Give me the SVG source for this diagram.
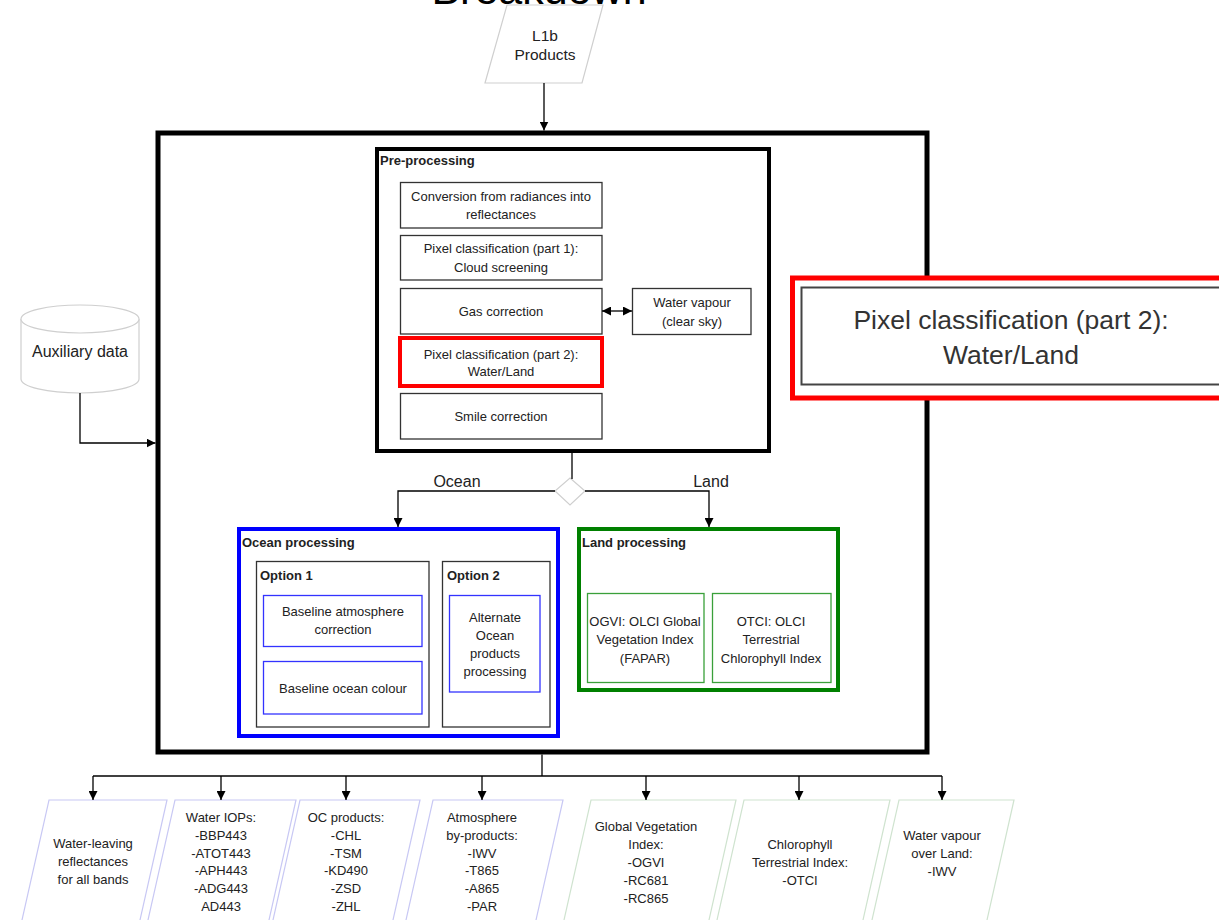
<svg xmlns="http://www.w3.org/2000/svg" width="1219" height="920" viewBox="0 0 1219 920">
<defs>
<marker id="ah" viewBox="0 0 10 10" refX="10" refY="5" markerWidth="9" markerHeight="9" markerUnits="userSpaceOnUse" orient="auto-start-reverse">
<path d="M0,0 L10,5 L0,10 z" fill="#000"/>
</marker>
<style>
text{font-family:"Liberation Sans",Arial,sans-serif;fill:#222;font-size:13px;text-anchor:middle}
.b{font-weight:bold;text-anchor:start}
.box{fill:#fff;stroke:#333;stroke-width:1.3}
.bl{fill:#fff;stroke:#3333ff;stroke-width:1.3}
.gr{fill:#fff;stroke:#3aa03a;stroke-width:1.3}
.pb{fill:#fff;stroke:#c8c8f4;stroke-width:1.2}
.pg{fill:#fff;stroke:#cfe3cf;stroke-width:1.2}
.ln{fill:none;stroke:#000;stroke-width:1.3}
</style>
</defs>
<rect width="1219" height="920" fill="#fff"/>
<text x="539" y="4" style="font-size:43px;fill:#000">Breakdown</text>

<g id="l1b">
<polygon points="507,5 603,5 582,83 485,83" fill="#fff" stroke="#cfcfcf" stroke-width="1.2"/>
<text x="545" y="41" style="font-size:15.5px">L1b</text>
<text x="545" y="60" style="font-size:15.5px">Products</text>
</g>

<g id="main">
<rect x="158" y="133" width="769" height="619" fill="none" stroke="#000" stroke-width="5"/>
</g>

<g id="aux">
<path d="M21,319 L21,379 A59,14 0 0 0 139,379 L139,319" fill="#fff" stroke="#cfcfcf" stroke-width="1.2"/>
<ellipse cx="80" cy="319" rx="59" ry="14" fill="#fff" stroke="#cfcfcf" stroke-width="1.2"/>
<text x="80" y="357" style="font-size:16px">Auxiliary data</text>
</g>

<g id="preprocessing">
<rect x="377" y="149" width="392" height="302" fill="#fff" stroke="#000" stroke-width="4"/>
<text class="b" x="380" y="165">Pre-processing</text>
</g>
<g id="conversion">
<rect class="box" x="400.5" y="182.5" width="201.5" height="45.5"/>
<text x="501" y="201">Conversion from radiances into</text>
<text x="501" y="219">reflectances</text>
</g>
<g id="pixel1">
<rect class="box" x="400.5" y="235.5" width="201.5" height="44.5"/>
<text x="501" y="253">Pixel classification (part 1):</text>
<text x="501" y="272">Cloud screening</text>
</g>
<g id="gas">
<rect class="box" x="400.5" y="288.5" width="201.5" height="45.5"/>
<text x="501" y="316">Gas correction</text>
</g>
<g id="pixel2">
<rect x="400" y="338" width="202" height="48" fill="#fff" stroke="#f00" stroke-width="4"/>
<text x="501" y="359">Pixel classification (part 2):</text>
<text x="501" y="376">Water/Land</text>
</g>
<g id="smile">
<rect class="box" x="400.5" y="393.5" width="201.5" height="45.5"/>
<text x="501" y="421">Smile correction</text>
</g>
<g id="watervapour">
<rect class="box" x="632.5" y="288.5" width="118.5" height="46"/>
<text x="692" y="307">Water vapour</text>
<text x="692" y="326">(clear sky)</text>
</g>

<g id="decision">
<polygon points="570,478 585,491 570,505 555,491" fill="#fff" stroke="#cfcfcf" stroke-width="1.2"/>
<text x="457" y="487" style="font-size:16px">Ocean</text>
<text x="711" y="487" style="font-size:16px">Land</text>
</g>

<g id="ocean">
<rect x="239" y="529" width="319" height="207" fill="#fff" stroke="#0000ff" stroke-width="4"/>
<text class="b" x="242" y="547">Ocean processing</text>
</g>
<g id="option1">
<rect class="box" x="256.5" y="561.5" width="172.5" height="165.5" stroke="#000"/>
<text class="b" x="260" y="580">Option 1</text>
</g>
<g id="atmcorr">
<rect class="bl" x="263.5" y="595.5" width="158.5" height="51"/>
<text x="343" y="616">Baseline atmosphere</text>
<text x="343" y="634">correction</text>
</g>
<g id="oceancolour">
<rect class="bl" x="263.5" y="661.5" width="158.5" height="52.5"/>
<text x="343" y="693">Baseline ocean colour</text>
</g>
<g id="option2">
<rect class="box" x="442.5" y="561.5" width="107.5" height="165.5" stroke="#000"/>
<text class="b" x="447" y="580">Option 2</text>
</g>
<g id="alternate">
<rect class="bl" x="449.5" y="595.5" width="90.5" height="96.5"/>
<text x="495" y="622">Alternate</text>
<text x="495" y="640">Ocean</text>
<text x="495" y="658">products</text>
<text x="495" y="676">processing</text>
</g>

<g id="land">
<rect x="579" y="529" width="259" height="161" fill="#fff" stroke="#008000" stroke-width="4"/>
<text class="b" x="582" y="547">Land processing</text>
</g>
<g id="ogvi">
<rect class="gr" x="587.5" y="593.5" width="116.5" height="89"/>
<text x="645" y="626">OGVI: OLCI Global</text>
<text x="645" y="644">Vegetation Index</text>
<text x="645" y="663">(FAPAR)</text>
</g>
<g id="otci">
<rect class="gr" x="712.5" y="593.5" width="118.5" height="89"/>
<text x="771" y="626">OTCI: OLCI</text>
<text x="771" y="644">Terrestrial</text>
<text x="771" y="663">Chlorophyll Index</text>
</g>

<g id="zoom">
<rect x="792.5" y="278" width="440" height="120" fill="#fff" stroke="#f00" stroke-width="5"/>
<rect x="801.5" y="287.5" width="420" height="97" fill="#fff" stroke="#444" stroke-width="2"/>
<text x="1011" y="329" style="font-size:26.5px;fill:#333">Pixel classification (part 2):</text>
<text x="1011" y="364" style="font-size:26.5px;fill:#333">Water/Land</text>
</g>

<g id="out1">
<polygon class="pb" points="49,800 167,800 135.5,940 17.5,940"/>
<text x="93" y="848">Water-leaving</text>
<text x="93" y="866">reflectances</text>
<text x="93" y="884">for all bands</text>
</g>
<g id="out2">
<polygon class="pb" points="175,800 296,800 264.5,940 143.5,940"/>
<text x="221" y="822">Water IOPs:</text>
<text x="221" y="840">-BBP443</text>
<text x="221" y="858">-ATOT443</text>
<text x="221" y="875">-APH443</text>
<text x="221" y="893">-ADG443</text>
<text x="221" y="911">AD443</text>
</g>
<g id="out3">
<polygon class="pb" points="300,800 420,800 388.5,940 268.5,940"/>
<text x="346" y="822">OC products:</text>
<text x="346" y="840">-CHL</text>
<text x="346" y="858">-TSM</text>
<text x="346" y="875">-KD490</text>
<text x="346" y="893">-ZSD</text>
<text x="346" y="911">-ZHL</text>
</g>
<g id="out4">
<polygon class="pb" points="433,800 563,800 531.5,940 401.5,940"/>
<text x="482" y="822">Atmosphere</text>
<text x="482" y="840">by-products:</text>
<text x="482" y="858">-IWV</text>
<text x="482" y="875">-T865</text>
<text x="482" y="893">-A865</text>
<text x="482" y="911">-PAR</text>
</g>
<g id="out5">
<polygon class="pg" points="591,800 736,800 704.5,940 559.5,940"/>
<text x="646" y="831">Global Vegetation</text>
<text x="646" y="849">Index:</text>
<text x="646" y="867">-OGVI</text>
<text x="646" y="885">-RC681</text>
<text x="646" y="903">-RC865</text>
</g>
<g id="out6">
<polygon class="pg" points="744,800 890,800 858.5,940 712.5,940"/>
<text x="800" y="849">Chlorophyll</text>
<text x="800" y="867">Terrestrial Index:</text>
<text x="800" y="885">-OTCI</text>
</g>
<g id="out7">
<polygon class="pg" points="899,800 1014,800 982.5,940 867.5,940"/>
<text x="942" y="840">Water vapour</text>
<text x="942" y="858">over Land:</text>
<text x="942" y="876">-IWV</text>
</g>

<g id="connectors">
<line class="ln" x1="544" y1="83" x2="544" y2="130.5" marker-end="url(#ah)"/>
<polyline class="ln" points="80,393 80,443 155.5,443" marker-end="url(#ah)"/>
<line class="ln" x1="602" y1="311" x2="632" y2="311" marker-start="url(#ah)" marker-end="url(#ah)"/>
<line class="ln" x1="572" y1="453" x2="572" y2="479"/>
<polyline class="ln" points="555,491 398,491 398,527" marker-end="url(#ah)"/>
<polyline class="ln" points="585,491 709,491 709,527" marker-end="url(#ah)"/>
<line class="ln" x1="542" y1="754.5" x2="542" y2="776"/>
<line class="ln" x1="93" y1="776" x2="942" y2="776"/>
<line class="ln" x1="93" y1="776" x2="93" y2="800" marker-end="url(#ah)"/>
<line class="ln" x1="221" y1="776" x2="221" y2="800" marker-end="url(#ah)"/>
<line class="ln" x1="346" y1="776" x2="346" y2="800" marker-end="url(#ah)"/>
<line class="ln" x1="482" y1="776" x2="482" y2="800" marker-end="url(#ah)"/>
<line class="ln" x1="646" y1="776" x2="646" y2="800" marker-end="url(#ah)"/>
<line class="ln" x1="799" y1="776" x2="799" y2="800" marker-end="url(#ah)"/>
<line class="ln" x1="942" y1="776" x2="942" y2="800" marker-end="url(#ah)"/>
</g>
</svg>
